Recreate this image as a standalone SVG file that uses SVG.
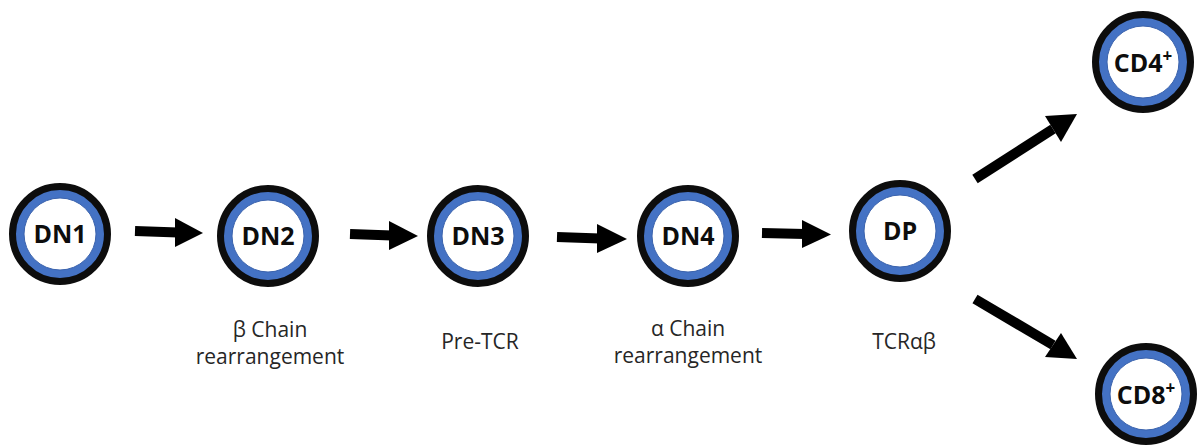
<svg xmlns="http://www.w3.org/2000/svg" width="1200" height="446" viewBox="0 0 1200 446">
<defs>
<style>
.ring{fill:#4472C4;stroke:#0d0d0d;stroke-width:7}
.core{fill:#ffffff;stroke:#3b63ad;stroke-width:1}
.nl{font-family:"Open Sans","Liberation Sans",sans-serif;font-weight:bold;font-size:25px;fill:#0d0d0d;text-anchor:middle}
.lb{font-family:"Open Sans","Liberation Sans",sans-serif;font-size:21px;fill:#262626;text-anchor:middle}
.shaft{stroke:#000;stroke-width:10;fill:none}
.head{fill:#000}
</style>
</defs>
<rect width="1200" height="446" fill="#fff"/>
<g id="connectors">
<g id="a1"><line class="shaft" x1="135" y1="231" x2="178" y2="232.5"/><polygon class="head" points="175,218 203,233 175,247"/></g>
<g id="a2"><line class="shaft" x1="350" y1="234" x2="392" y2="235.5"/><polygon class="head" points="389,221 418,236 389,250"/></g>
<g id="a3"><line class="shaft" x1="557" y1="237" x2="600" y2="238.5"/><polygon class="head" points="597,224 627,239 597,253"/></g>
<g id="a4"><line class="shaft" x1="762" y1="233" x2="805" y2="234"/><polygon class="head" points="802,220 831,234.5 802,248"/></g>
<g id="a5"><line class="shaft" x1="975" y1="179" x2="1053" y2="129"/><polygon class="head" points="1045,116 1077,114 1061,142"/></g>
<g id="a6"><line class="shaft" x1="975" y1="299" x2="1053" y2="345"/><polygon class="head" points="1061,333 1077,359 1045,357"/></g>
</g>
<g id="DN1"><circle class="ring" cx="60" cy="234" r="47.5"/><circle class="core" cx="60" cy="234" r="36"/><text class="nl" x="60" y="243">DN1</text></g>
<g id="DN2"><circle class="ring" cx="268" cy="236" r="47.5"/><circle class="core" cx="268" cy="236" r="36"/><text class="nl" x="268" y="245">DN2</text></g>
<g id="DN3"><circle class="ring" cx="478" cy="236" r="47.5"/><circle class="core" cx="478" cy="236" r="36"/><text class="nl" x="478" y="245">DN3</text></g>
<g id="DN4"><circle class="ring" cx="688" cy="236" r="47.5"/><circle class="core" cx="688" cy="236" r="36"/><text class="nl" x="688" y="245">DN4</text></g>
<g id="DP"><circle class="ring" cx="900" cy="231" r="47.5"/><circle class="core" cx="900" cy="231" r="36"/><text class="nl" x="900" y="240">DP</text></g>
<g id="CD4"><circle class="ring" cx="1143" cy="62" r="47.5"/><circle class="core" cx="1143" cy="62" r="36"/><text class="nl" x="1143" y="72">CD4<tspan font-size="17" dy="-10">+</tspan></text></g>
<g id="CD8"><circle class="ring" cx="1146" cy="394" r="47.5"/><circle class="core" cx="1146" cy="394" r="36"/><text class="nl" x="1146" y="404">CD8<tspan font-size="17" dy="-10">+</tspan></text></g>
<g id="labels">
<text class="lb" x="270" y="337">β Chain</text>
<text class="lb" x="270" y="364">rearrangement</text>
<text class="lb" x="480" y="349">Pre-TCR</text>
<text class="lb" x="688" y="336">α Chain</text>
<text class="lb" x="688" y="363">rearrangement</text>
<text class="lb" x="904" y="349">TCRαβ</text>
</g>
</svg>
